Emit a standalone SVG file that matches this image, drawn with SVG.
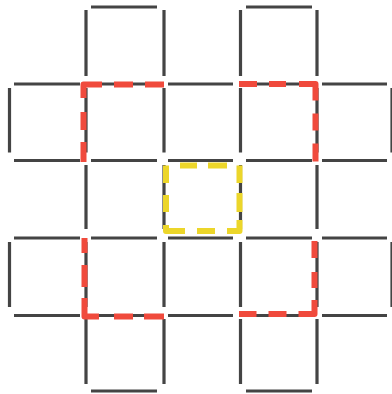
<svg xmlns="http://www.w3.org/2000/svg" width="392" height="394" viewBox="0 0 392 394">
  <style>
    .stick{fill:none;stroke:#444;stroke-width:3.2;stroke-linecap:butt}
    .red{fill:none;stroke:#f04a3c;stroke-width:6;stroke-linecap:butt;stroke-linejoin:round}
    .yellow{fill:none;stroke:#ecd62a;stroke-width:6;stroke-linecap:butt;stroke-linejoin:round}
  </style>
  <rect width="392" height="394" fill="#ffffff"/>
  <g id="connectors">
    <g id="sticks-horizontal">
      <path class="stick" d="M91 7H157M246 7H312"/>
      <path class="stick" d="M14 84H80M91 84H157M168 84H233M246 84H312M322 84H387"/>
      <path class="stick" d="M14 160.5H80M91 160.5H157M168 160.5H233M246 160.5H312M322 160.5H387"/>
      <path class="stick" d="M14 238H80M91 238H157M168 238H233M246 238H312M322 238H387"/>
      <path class="stick" d="M14 315.5H80M91 315.5H157M168 315.5H233M246 315.5H312M322 315.5H387"/>
      <path class="stick" d="M91 391H157M246 391H312"/>
    </g>
    <g id="sticks-vertical">
      <path class="stick" d="M86 10V76M164 10V76M240.5 10V76M317 10V76"/>
      <path class="stick" d="M9.5 88V152.5M86 88V152.5M164 88V152.5M240.5 88V152.5M317 88V152.5M392 88V152.5"/>
      <path class="stick" d="M86 165V229M164 165V229M240.5 165V229M317 165V229"/>
      <path class="stick" d="M9.5 242V307M86 242V307M164 242V307M240.5 242V307M317 242V307M392 242V307"/>
      <path class="stick" d="M86 319V384M164 319V384M240.5 319V384M317 319V384"/>
    </g>
  </g>
  <g id="red-top-left">
    <path class="red" d="M164 84.5H83.5V162" stroke-dasharray="19 12 19 12 32 14 18 12 20"/>
  </g>
  <g id="red-top-right">
    <path class="red" d="M239 84H315.5V162" stroke-dasharray="18 12 17 13 33 13 17 13 18"/>
  </g>
  <g id="red-bottom-left">
    <path class="red" d="M84.5 238V316.5H164" stroke-dasharray="15 12 22 11 33 15 19 11 20"/>
  </g>
  <g id="red-bottom-right">
    <path class="red" d="M314.5 241V314H239" stroke-dasharray="17 14 16 12 30 12 18 12 18"/>
  </g>
  <g id="yellow-center">
    <path class="yellow" d="M180 165.5H239.5V231H166V165.5H180" stroke-dasharray="17 11 19 12.5 17.5 10 19 8 23.5 12 18 12 25 13 17 12 17.5 14"/>
  </g>
</svg>
